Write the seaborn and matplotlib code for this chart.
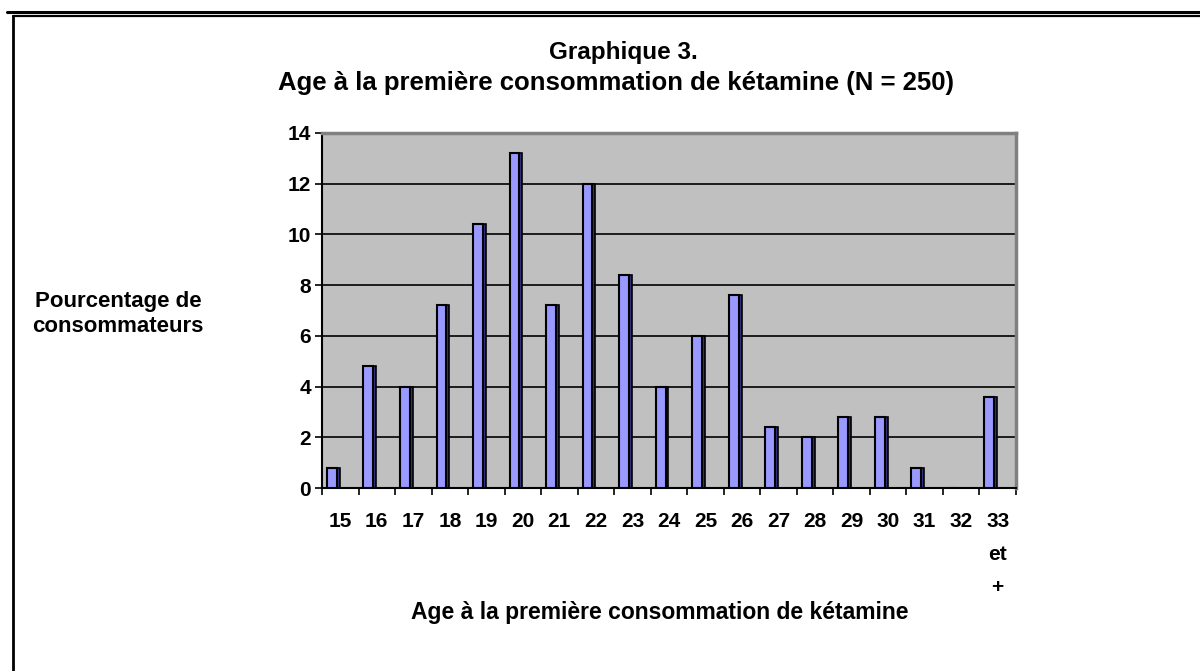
import matplotlib
matplotlib.use("Agg")
import matplotlib.pyplot as plt
from matplotlib.lines import Line2D
import seaborn as sns
import numpy as np

ages = ["15", "16", "17", "18", "19", "20", "21", "22", "23", "24",
        "25", "26", "27", "28", "29", "30", "31", "32", "33\net\n+"]
percentages = [0.8, 4.8, 4.0, 7.2, 10.4, 13.2, 7.2, 12.0, 8.4, 4.0,
               6.0, 7.6, 2.4, 2.0, 2.8, 2.8, 0.8, 0.0, 3.6]
title_line1 = "Graphique 3."
title_line2 = "Age à la première consommation de kétamine (N = 250)"
ylabel_text = "Pourcentage de\nconsommateurs"
xlabel_text = "Age à la première consommation de kétamine"
yticks = [0, 2, 4, 6, 8, 10, 12, 14]

sns.set_theme(style="white")
plt.rcParams['font.family'] = ['Liberation Sans', 'DejaVu Sans']
plt.rcParams['font.weight'] = 'bold'
plt.rcParams['text.color'] = 'black'
plt.rcParams['xtick.color'] = 'black'
plt.rcParams['ytick.color'] = 'black'
plt.rcParams['axes.labelcolor'] = 'black'

fig = plt.figure(figsize=(12, 6.71), dpi=100)
fig.patch.set_facecolor("white")
ax = fig.add_axes([322 / 1200, 1 - 488 / 671, (1016 - 322) / 1200, (488 - 133) / 671])
ax.set_facecolor("#C0C0C0")

# depth (3D side) bars
sns.barplot(x=ages, y=percentages, width=0.27, color="#33337F",
            saturation=1, edgecolor="black", linewidth=1.2, ax=ax, zorder=3)
n_depth = len(ax.patches)
# front bars
sns.barplot(x=ages, y=percentages, width=0.27, color="#9999FF",
            saturation=1, edgecolor="black", linewidth=1.5, ax=ax, zorder=4)
for i, p in enumerate(ax.patches):
    if i < n_depth:
        p.set_x(p.get_x() - 0.23 + 0.08)
    else:
        p.set_x(p.get_x() - 0.23)

ax.set_xlim(-0.5, len(ages) - 0.5)
ax.set_ylim(0, 14)
ax.set_yticks(yticks)
ax.yaxis.grid(True, color="black", linewidth=1.2)
ax.set_axisbelow(True)
ax.set_yticklabels([str(v) for v in yticks], fontsize=15, fontweight="bold")
ax.tick_params(axis="y", which="major", left=True, length=5, width=1.2,
               color="black", pad=3)

ax.set_xticks(np.arange(len(ages)))
ax.set_xticklabels(ages, fontsize=15, fontweight="bold")
for t in ax.get_xticklabels():
    t.set_linespacing(1.95)
ax.set_xticks(np.arange(len(ages) + 1) - 0.5, minor=True)
ax.tick_params(axis="x", which="major", bottom=False, length=0, pad=17)
ax.tick_params(axis="x", which="minor", bottom=True, length=5, width=1.2, color="black")

for side in ["left", "bottom"]:
    ax.spines[side].set_color("black")
    ax.spines[side].set_linewidth(1.5)
for side in ["top", "right"]:
    ax.spines[side].set_color("#808080")
    ax.spines[side].set_linewidth(2.5)

ax.set_xlabel("")
ax.set_ylabel("")

fig.text(623 / 1200, 1 - 52 / 671, title_line1, ha="center", va="center",
         fontsize=17.5, fontweight="bold")
fig.text(616 / 1200, 1 - 83 / 671, title_line2, ha="center", va="center",
         fontsize=18.5, fontweight="bold")
fig.text(118 / 1200, 1 - 314 / 671, ylabel_text, ha="center", va="center",
         fontsize=16, fontweight="bold", linespacing=1.25)
fig.text(660 / 1200, 1 - 613 / 671, xlabel_text, ha="center", va="center",
         fontsize=16.5, fontweight="bold")

# outer frame lines
fig.add_artist(Line2D([7 / 1200, 1], [1 - 11.5 / 671, 1 - 11.5 / 671],
                      color="black", linewidth=2.2, transform=fig.transFigure))
fig.add_artist(Line2D([12.5 / 1200, 1], [1 - 15.5 / 671, 1 - 15.5 / 671],
                      color="black", linewidth=1.6, transform=fig.transFigure))
fig.add_artist(Line2D([12.5 / 1200, 12.5 / 1200], [0, 1 - 15.5 / 671],
                      color="black", linewidth=2.0, transform=fig.transFigure))

fig.savefig("out.png", dpi=100)
